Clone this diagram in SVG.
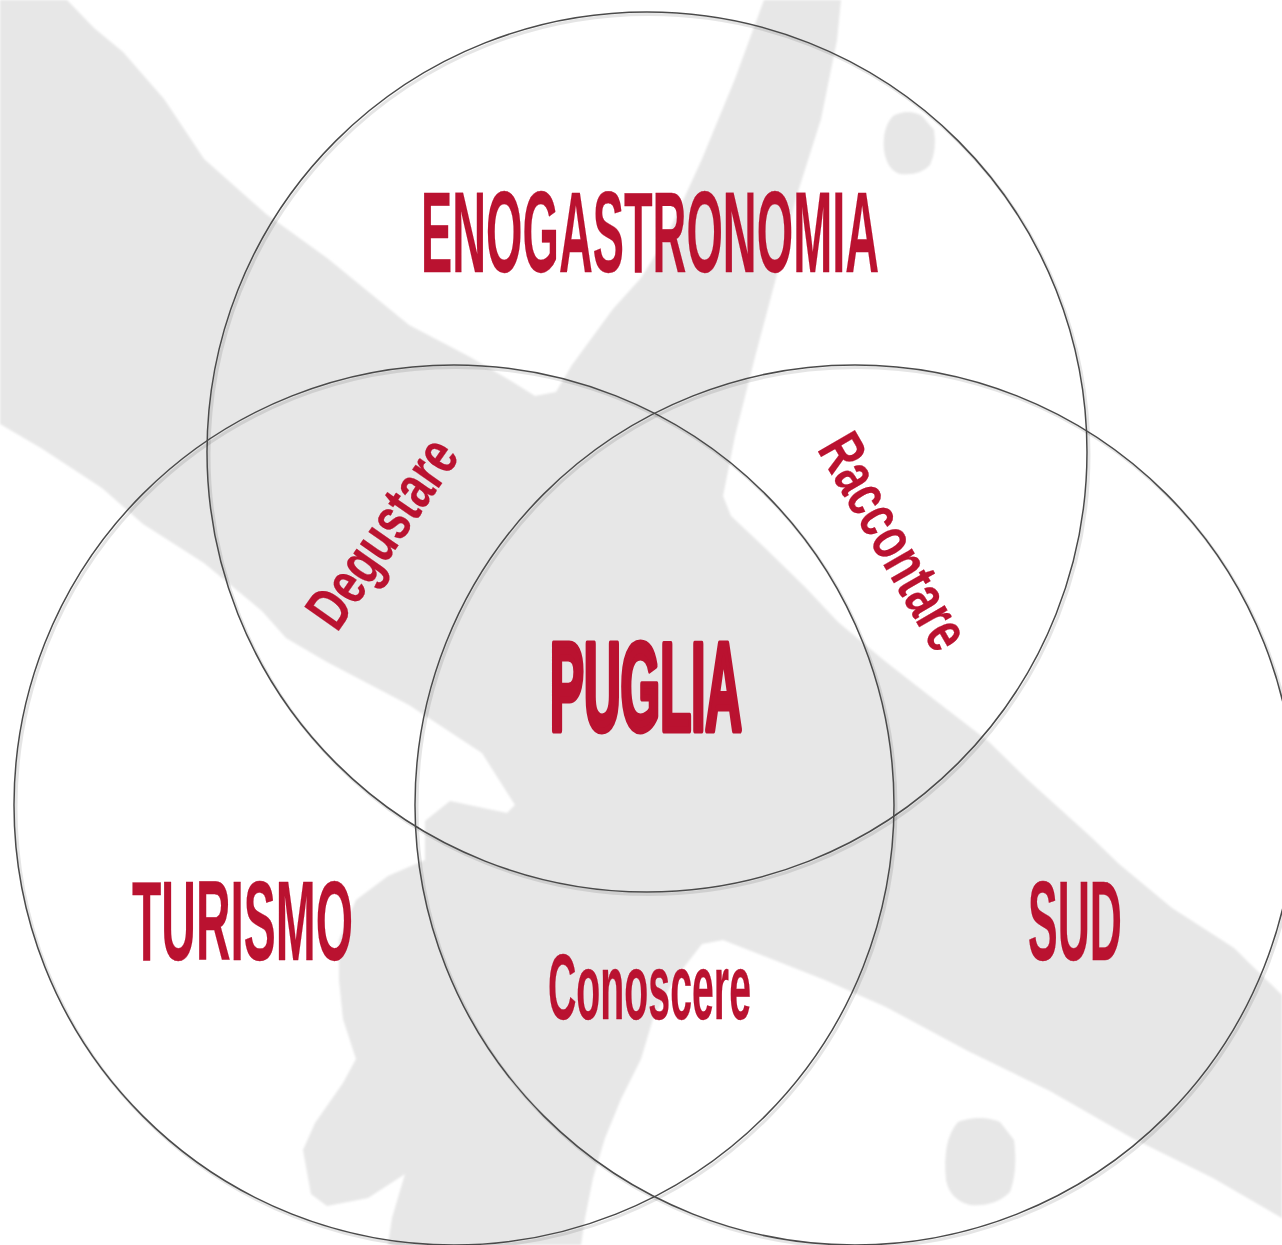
<svg xmlns="http://www.w3.org/2000/svg" width="1282" height="1245" viewBox="0 0 1282 1245">
<style>
.ring{fill:none;stroke:#4a4a4a;stroke-width:1.5}
.ringsh{fill:none;stroke:#000;stroke-opacity:0.10;stroke-width:3}
.lbl{font-family:"Liberation Sans Narrow","Liberation Sans",Arial,sans-serif;font-weight:bold;fill:#ba1230;stroke:#ba1230;stroke-linejoin:round;stroke-width:0.3}
.heavy{stroke-width:5.5;vector-effect:non-scaling-stroke}
.land{fill:#e7e7e7}
</style>
<defs>
<filter id="soft" x="-5%" y="-5%" width="110%" height="110%"><feGaussianBlur stdDeviation="1.2"/></filter>
</defs>
<rect width="1282" height="1245" fill="#ffffff"/>
<g id="background-map" class="land" filter="url(#soft)">
<path d="M0,0 L67,0 L94,28 L123,52 L164,99 L204,159 L266,214 L327,258 L409,325 L470,357 L511,381 L535,396 L556,392 L572,365 L613,309 L641,278 L666,238 L702,159 L735,79 L764,0 L841,0 L837,40 L821,119 L796,198 L776,278 L755,357 L735,436 L723,496 L731,516 L764,547 L805,587 L838,622 L886,662 L927,694 L988,741 L1029,781 L1091,837 L1119,864 L1172,908 L1234,948 L1282,995 L1282,1218 L1213,1178 L1132,1138 L1050,1091 L968,1051 L886,1007 L825,980 L764,956 L723,940 L702,944 L674,980 L653,1019 L641,1059 L621,1099 L605,1138 L593,1178 L585,1218 L581,1245 L388,1245 L392,1218 L405,1174 L368,1198 L327,1206 L311,1194 L303,1150 L315,1123 L343,1083 L356,1059 L343,1019 L339,980 L339,940 L356,900 L388,876 L425,860 L425,821 L450,801 L507,813 L515,805 L482,753 L409,705 L327,662 L286,638 L262,611 L204,563 L143,524 L102,488 L41,448 L0,424 Z"/>
<path d="M893,116 Q908,108 922,116 L934,130 Q937,150 930,165 Q920,176 900,174 Q887,170 884,150 Q882,128 893,116 Z"/>
<path d="M958,1122 Q980,1114 1000,1122 L1014,1140 Q1018,1170 1010,1192 Q995,1207 970,1205 Q950,1200 946,1180 Q942,1140 958,1122 Z"/>
</g>
<g id="node-enogastronomia">
<circle class="ringsh" cx="649" cy="454.5" r="440"/>
<circle class="ring" cx="647" cy="452" r="440"/>
<text class="lbl" transform="translate(421,272) scale(0.497,1)" x="0" y="0" font-size="115" textLength="921.5" lengthAdjust="spacingAndGlyphs">ENOGASTRONOMIA</text>
</g>
<g id="node-turismo">
<circle class="ringsh" cx="456" cy="807.5" r="440"/>
<circle class="ring" cx="454" cy="805" r="440"/>
<text class="lbl" transform="translate(132,960) scale(0.517,1)" x="0" y="0" font-size="113" textLength="427.5" lengthAdjust="spacingAndGlyphs">TURISMO</text>
</g>
<g id="node-sud">
<circle class="ringsh" cx="857" cy="807.5" r="440"/>
<circle class="ring" cx="855" cy="805" r="440"/>
<text class="lbl" transform="translate(1028,960) scale(0.481,1)" x="0" y="0" font-size="113" textLength="195.4" lengthAdjust="spacingAndGlyphs">SUD</text>
</g>
<g id="node-degustare" transform="translate(385,535) rotate(-55)">
<text class="lbl" transform="translate(-108,17) scale(0.883,1)" x="0" y="0" font-size="61" textLength="244.6" lengthAdjust="spacingAndGlyphs">Degustare</text>
</g>
<g id="node-raccontare" transform="translate(895,541) rotate(60)">
<text class="lbl" transform="translate(-119,22) scale(0.86,1)" x="0" y="0" font-size="62" textLength="276.7" lengthAdjust="spacingAndGlyphs">Raccontare</text>
</g>
<g id="node-conoscere">
<text class="lbl" transform="translate(548,1019) scale(0.521,1)" x="0" y="0" font-size="92" textLength="389.6" lengthAdjust="spacingAndGlyphs">Conoscere</text>
</g>
<g id="node-puglia">
<text class="lbl heavy" transform="translate(550,730) scale(0.503,1)" x="0" y="0" font-size="124" textLength="381.7" lengthAdjust="spacingAndGlyphs">PUGLIA</text>
</g>
</svg>
